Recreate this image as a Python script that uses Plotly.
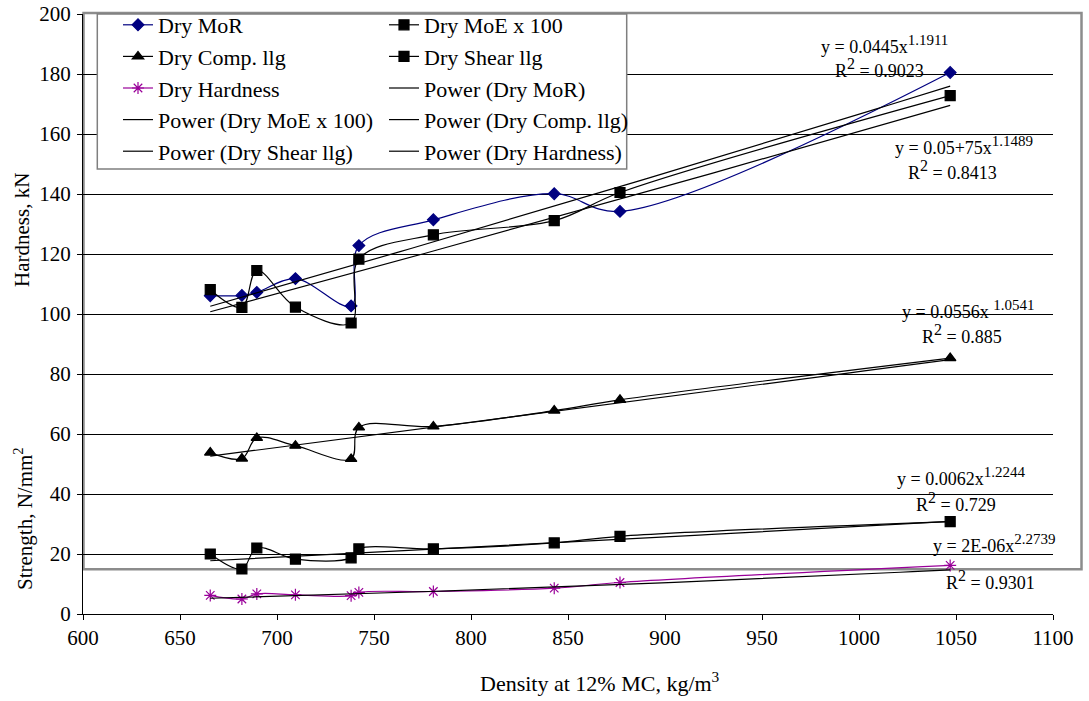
import numpy as np
import plotly.graph_objects as go

# ---------------- data ----------------
density = [665.6, 681.9, 689.6, 709.5, 738.2, 742.2, 780.6, 842.9, 876.8, 1047.0]
dry_mor = [106.1, 106.2, 107.2, 111.8, 102.7, 122.8, 131.4, 140.1, 134.2, 180.5]
dry_moe_x100 = [108.1, 102.2, 114.5, 102.3, 97.0, 118.3, 126.4, 131.1, 140.5, 172.8]
dry_comp = [53.8, 51.8, 58.7, 56.1, 51.7, 62.2, 62.5, 67.8, 71.4, 85.3]
dry_shear = [20.0, 15.0, 22.0, 18.3, 18.7, 21.7, 21.7, 23.7, 25.9, 30.8]
dry_hardness = [6.2, 5.0, 6.7, 6.4, 6.1, 7.2, 7.5, 8.6, 10.5, 16.2]

series_names = ["Dry MoR", "Dry MoE x 100", "Dry Comp. llg", "Dry Shear llg", "Dry Hardness"]
power_a = [0.0445, 0.0575, 0.0556, 0.0062, 2e-06]
power_b = [1.1911, 1.1489, 1.0541, 1.2244, 2.2739]
eq_prefix = ["y = 0.0445x", "y = 0.05+75x", "y = 0.0556x ", "y = 0.0062x", "y = 2E-06x"]
eq_power = ["1.1911", "1.1489", "1.0541", "1.2244", "2.2739"]
r2_values = ["0.9023", "0.8413", "0.885", "0.729", "0.9301"]

x_ticks = [600, 650, 700, 750, 800, 850, 900, 950, 1000, 1050, 1100]
y_ticks = [0, 20, 40, 60, 80, 100, 120, 140, 160, 180, 200]

# ---------------- styling ----------------
FONT = "Liberation Serif"
W, H = 1089, 701
ML, MR, MT, MB = 83, 36, 14, 87
PW, PH = W - ML - MR, H - MT - MB


def fx(px):
    return (px - ML) / PW


def fy(py):
    return (H - MB - py) / PH


navy = "#000080"
purple = "#990099"

fig = go.Figure()

values = [dry_mor, dry_moe_x100, dry_comp, dry_shear, dry_hardness]
colors = [navy, "black", "black", "black", purple]
symbols = ["diamond", "square", "triangle-up", "square", "asterisk-open"]
sizes = [9, 10, 10, 10, 10]
legend_of_series = ["legend", "legend2", "legend", "legend2", "legend"]
legend_of_power = ["legend2", "legend", "legend2", "legend", "legend2"]

for name, vals, col, sym, sz, lg in zip(series_names, values, colors, symbols, sizes, legend_of_series):
    fig.add_trace(go.Scatter(
        x=density, y=vals, name=name, mode="lines+markers",
        line=dict(color=col, width=1.2, shape="spline", smoothing=1.0),
        marker=dict(symbol=sym, size=sz, color=col, line=dict(color=col, width=1.2)),
        legend=lg,
    ))

xs = np.linspace(density[0], density[-1], 60)
for name, a, b, lg in zip(series_names, power_a, power_b, legend_of_power):
    fig.add_trace(go.Scatter(
        x=xs, y=a * xs ** b, name="Power (" + name + ")", mode="lines",
        line=dict(color="black", width=1.2), legend=lg,
    ))

# equation annotations (positions in pixels of the figure)
eq_pos = [(884, 45), (964, 145), (968, 309), (961, 476), (994, 543)]
r2_pos = [(879, 68), (952, 170), (962, 334), (956, 502), (990, 580)]
for pre, pw, (px, py) in zip(eq_prefix, eq_power, eq_pos):
    txt = pre + "<sup><span style='font-size:15px'>" + pw + "</span></sup>"
    fig.add_annotation(x=fx(px), y=fy(py), xref="paper", yref="paper", text=txt,
                       showarrow=False, xanchor="center", yanchor="middle",
                       font=dict(family=FONT, size=18, color="black"))
for val, (px, py) in zip(r2_values, r2_pos):
    txt = "R<sup><span style='font-size:16px'>2</span></sup> = " + val
    fig.add_annotation(x=fx(px), y=fy(py), xref="paper", yref="paper", text=txt,
                       showarrow=False, xanchor="center", yanchor="middle",
                       font=dict(family=FONT, size=18, color="black"))

# y axis titles (two parts)
fig.add_annotation(x=fx(22), y=fy(230), xref="paper", yref="paper", text="Hardness, kN",
                   showarrow=False, textangle=-90, xanchor="center", yanchor="middle",
                   font=dict(family=FONT, size=21, color="black"))
fig.add_annotation(x=fx(23), y=fy(519), xref="paper", yref="paper", text="Strength, N/mm<sup>2</sup>",
                   showarrow=False, textangle=-90, xanchor="center", yanchor="middle",
                   font=dict(family=FONT, size=21, color="black"))
# x axis title
fig.add_annotation(x=fx(600), y=fy(682), xref="paper", yref="paper", text="Density at 12% MC, kg/m<sup>3</sup>",
                   showarrow=False, xanchor="center", yanchor="middle",
                   font=dict(family=FONT, size=22, color="black"))

# gray frame (overlaid plot-area border)
fig.add_shape(type="rect", xref="paper", yref="paper",
              x0=fx(83.5), x1=fx(1081.5), y0=fy(569.3), y1=fy(13),
              line=dict(color="#8c8c8c", width=2.5), fillcolor="rgba(0,0,0,0)", layer="below")
# legend box
fig.add_shape(type="rect", xref="paper", yref="paper",
              x0=fx(97.3), x1=fx(626.7), y0=fy(169), y1=fy(14),
              line=dict(color="#7f7f7f", width=1.5), fillcolor="white", layer="above")

leg_common = dict(font=dict(family=FONT, size=22, color="black"), bgcolor="rgba(0,0,0,0)",
                  borderwidth=0, yanchor="top", xanchor="left", orientation="v",
                  itemclick=False, itemdoubleclick=False)
fig.update_layout(
    width=W, height=H,
    margin=dict(l=ML, r=MR, t=MT, b=MB, autoexpand=False),
    paper_bgcolor="white", plot_bgcolor="white",
    font=dict(family=FONT, size=21, color="black"),
    showlegend=True,
    legend=dict(x=fx(118), y=fy(4), **leg_common),
    legend2=dict(x=fx(384), y=fy(4), **leg_common),
    xaxis=dict(range=[600, 1100], tickvals=x_ticks, ticks="outside", ticklen=5, tickcolor="black",
               showline=True, linecolor="black", linewidth=1, showgrid=False, zeroline=False,
               tickfont=dict(family=FONT, size=21, color="black")),
    yaxis=dict(range=[0, 200], tickvals=y_ticks, ticks="outside", ticklen=5, tickcolor="black",
               showline=True, linecolor="black", linewidth=1, showgrid=True, gridcolor="black",
               gridwidth=1, zeroline=False, ticklabelstandoff=2,
               tickfont=dict(family=FONT, size=21, color="black")),
)

fig.write_html("out.html", config={"displayModeBar": False},
               post_script="document.body.style.margin = '0px';")
